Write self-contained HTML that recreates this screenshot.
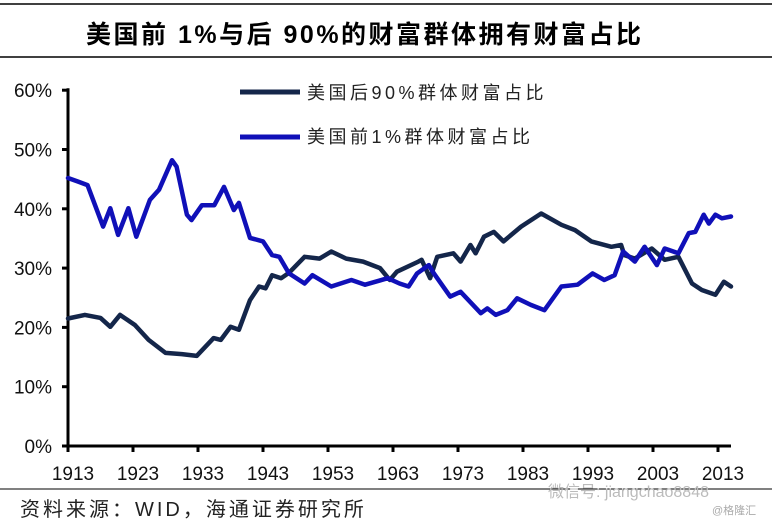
<!DOCTYPE html>
<html><head><meta charset="utf-8"><style>
body{margin:0;background:#fff;}
svg{display:block;font-family:"Liberation Sans","Noto Sans CJK SC",sans-serif;}
</style></head><body>
<svg id="chart" width="772" height="526" viewBox="0 0 772 526">
<line x1="0" y1="4" x2="772" y2="4" stroke="#000" stroke-width="1.5"/>
<text x="86" y="43" font-size="25" font-weight="bold" letter-spacing="2.5" font-family="'Liberation Sans','Noto Sans CJK SC',sans-serif">美国前 1%与后 90%的财富群体拥有财富占比</text>
<line x1="0" y1="57" x2="772" y2="57" stroke="#000" stroke-width="1.5"/>
<g id="yaxis"></g>
<g id="xaxis"></g>
<g id="series"></g>
<g>
<g>
<line x1="240" y1="92" x2="300" y2="92" stroke="#14264a" stroke-width="5"/>
<text x="307" y="99" font-size="18" letter-spacing="3.5" fill="#222">美国后90%群体财富占比</text></g>
<g>
<line x1="240" y1="137" x2="300" y2="137" stroke="#1010b8" stroke-width="5"/>
<text x="307" y="143" font-size="18" letter-spacing="3.5" fill="#222">美国前1%群体财富占比</text></g>
</g>
<line x1="0" y1="489" x2="772" y2="489" stroke="#000" stroke-width="1"/>
<text x="20" y="516" font-size="20" letter-spacing="3" fill="#222">资料来源：WID，海通证券研究所</text>
<text x="548" y="497" font-size="16" fill="#bbb">微信号: jiangchao8848</text>
<text x="712" y="514" font-size="11" fill="#aaa">@格隆汇</text>
</svg>
<script>
const yTicks=[0,10,20,30,40,50,60];
const xTicks=[1913,1923,1933,1943,1953,1963,1973,1983,1993,2003,2013];
const bottom90Years=[1913,1915.6,1918,1919.5,1921,1923.3,1925.4,1928,1930.5,1932.8,1935.4,1936.5,1938,1939.3,1941,1942.4,1943.4,1944.4,1945.8,1947,1949.4,1951.7,1953.5,1955.8,1958.4,1961,1962.5,1963.6,1966.9,1967.4,1968.7,1969.8,1972.3,1973.4,1974.9,1975.7,1977,1978.5,1980,1982.7,1985.8,1988.9,1991,1993.5,1996.6,1998.1,1998.6,2000.2,2002.8,2004.8,2006.9,2009,2010.5,2012.6,2013.9,2015];
const bottom90Values=[21.5,22.1,21.6,20.1,22.1,20.4,17.9,15.7,15.5,15.2,18.2,17.9,20.1,19.6,24.6,26.9,26.6,28.8,28.3,29.2,31.9,31.6,32.8,31.6,31.1,30.0,28.0,29.4,31.1,31.4,28.3,31.9,32.5,31.1,33.9,32.5,35.3,36.1,34.5,37.0,39.2,37.3,36.4,34.5,33.6,33.9,32.2,31.6,33.3,31.4,31.9,27.4,26.3,25.5,27.7,26.9];
const top1Years=[1913,1914.5,1916,1918.4,1919.5,1920.7,1922.3,1923.5,1925.6,1927,1929,1929.7,1931.3,1932,1933.6,1935.5,1937,1938.5,1939.3,1941,1943,1944.4,1945.5,1947,1949.4,1950.6,1953.5,1956.6,1958.7,1962.2,1964,1965.4,1966.7,1968.5,1969.3,1971.8,1973.4,1976.5,1977.5,1978.8,1980.6,1982.1,1984.2,1986.3,1988.9,1991.4,1993.7,1995.5,1997.1,1998.4,2000.2,2001.7,2003.6,2004.8,2006.9,2008.5,2009.5,2010.8,2011.6,2012.6,2013.6,2015];
const top1Values=[45.2,44.6,44.0,37.0,40.1,35.6,40.1,35.3,41.5,43.2,48.2,47.1,39.0,38.1,40.6,40.6,43.7,39.8,41.0,35.1,34.5,32.2,31.9,29.1,27.4,28.8,26.9,28.0,27.2,28.3,27.4,26.9,29.1,30.5,29.1,25.2,26.0,22.4,23.2,22.1,22.9,24.9,23.8,22.9,26.9,27.2,29.1,28.0,28.8,32.8,31.1,33.6,30.5,33.3,32.5,35.9,36.1,39.0,37.5,39.0,38.4,38.7];

const NS='http://www.w3.org/2000/svg';
const x=yr=>68+(yr-1913)*6.5;
const y=v=>446-v*5.93;
function mk(tag,attrs,parent){const e=document.createElementNS(NS,tag);for(const k in attrs)e.setAttribute(k,attrs[k]);parent.appendChild(e);return e;}
const ya=document.getElementById('yaxis'),xa=document.getElementById('xaxis'),sg=document.getElementById('series');
mk('line',{x1:68,y1:y(60)-2,x2:68,y2:447,stroke:'#000','stroke-width':3},ya);
yTicks.forEach(t=>{
  const tk=mk('line',{x1:62,y1:y(t),x2:68,y2:y(t),stroke:'#000','stroke-width':3},ya);
  
  
  const tx=mk('text',{x:52,y:y(t)+7,'font-size':19,'text-anchor':'end',fill:'#111'},ya);
  tx.textContent=t+'%';
  
  
});
mk('line',{x1:67,y1:446,x2:731,y2:446,stroke:'#000','stroke-width':3},xa);
xTicks.forEach(t=>{
  const tk=mk('line',{x1:x(t),y1:446,x2:x(t),y2:452,stroke:'#000','stroke-width':3},xa);
  
  
  const tx=mk('text',{x:x(t)+5,y:480,'font-size':19,'text-anchor':'middle',fill:'#111'},xa);
  tx.textContent=t;
  
  
});
function line(years,vals,color){
  const d=years.map((yr,i)=>(i?'L':'M')+x(yr).toFixed(1)+','+y(vals[i]).toFixed(1)).join('');
  return mk('path',{d:d,fill:'none',stroke:color,'stroke-width':4.5,'stroke-linejoin':'round','stroke-linecap':'round'},sg);
}
const p1=line(bottom90Years,bottom90Values,'#14264a');


const p2=line(top1Years,top1Values,'#1010b8');


</script>
</body></html>
